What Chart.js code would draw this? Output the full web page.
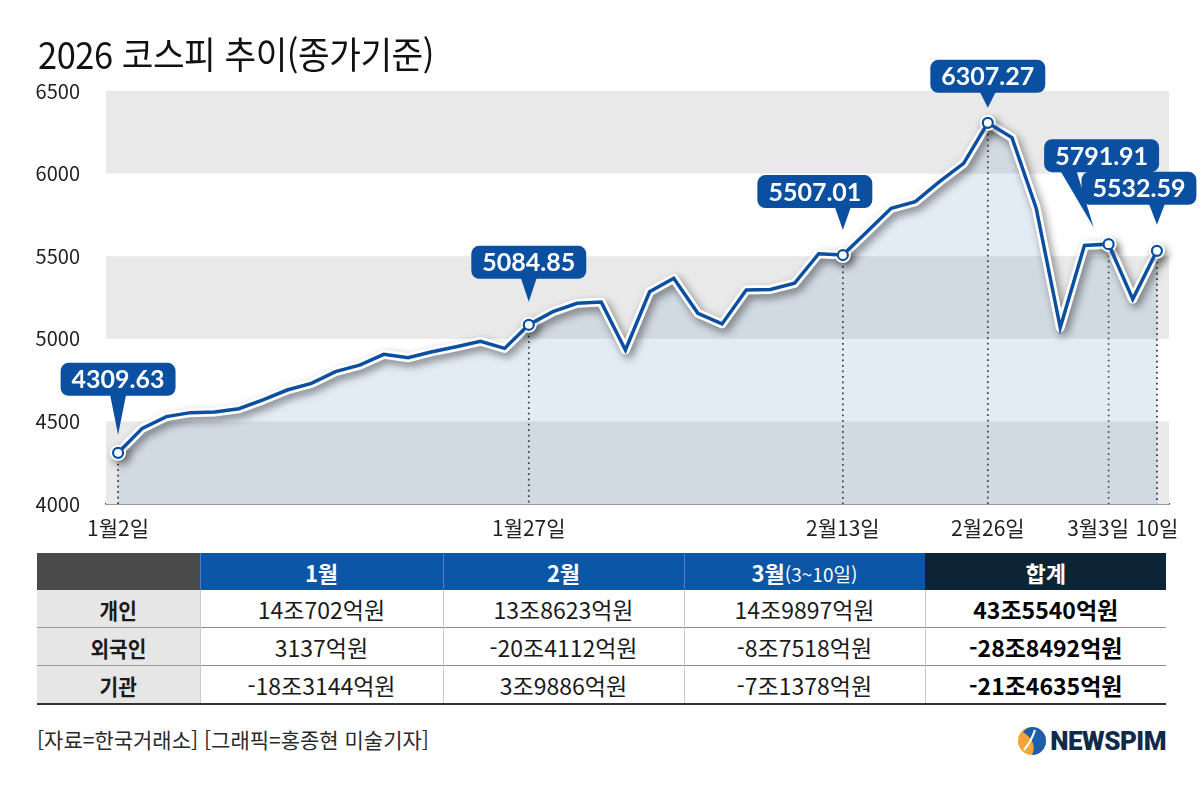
<!DOCTYPE html>
<html lang="ko">
<head>
<meta charset="utf-8">
<title>2026 코스피 추이</title>
<script src="https://cdn.jsdelivr.net/npm/chart.js@4.4.1/dist/chart.umd.min.js"></script>
<style>
  html, body { margin: 0; padding: 0; background: #fff; }
  body { width: 1204px; height: 786px; position: relative; overflow: hidden;
         font-family: "Noto Sans CJK KR", "Noto Sans", sans-serif; color: #111; }
  #title { position: absolute; left: 38px; top: 35px; font-size: 37px; line-height: 1;
           font-weight: 400; transform: scaleX(0.93); transform-origin: left center;
           white-space: nowrap; z-index: 2; letter-spacing: -0.5px; }
  #wrap { position: absolute; left: 0; top: 0; width: 1204px; height: 550px; }
  #flow { position: absolute; left: 37px; top: 553px; width: 1129px;
          border-collapse: collapse; table-layout: fixed; }
  #flow th, #flow td { padding: 0; text-align: center; vertical-align: middle; white-space: nowrap; }
  #flow th { height: 37px; color: #fff; font-size: 22px; font-weight: 700; background: #0b56a7;
             border-left: 1px solid #4c7fbf; }
  #flow th.corner { background: #4a4a4a; border-left: none; }
  #flow th.sum { background: #0d2436; border-left: 1px solid #0d2436; }
  #flow th small { font-size: 19px; font-weight: 400; }
  #flow td { height: 37px; font-size: 23px; color: #1a1a1a; border-top: 1px solid #8c8c8c;
             border-left: 1px solid #c9c9c9; }
  #flow tr:nth-child(2) td { border-top: none; }
  #flow td.who { background: #e6e6e6; font-weight: 700; font-size: 22px; border-left: none;
                 border-top-color: #9a9a9a; }
  #flow td.sum { font-weight: 700; font-size: 23px; color: #000; }
  #flow tr:last-child td { border-bottom: 2px solid #333; }
  #flow span { display: inline-block; }
  #flow td.who span { transform: scaleX(0.92); }
  #src { position: absolute; left: 37px; top: 729px; font-size: 21px; line-height: 1; color: #2a2a2a;
         white-space: nowrap; }
  #logo { position: absolute; right: 38px; top: 726px; display: flex; align-items: center; gap: 3px; }
  #logo b { font-family: Roboto, sans-serif; font-weight: 900; font-size: 26px; color: #11294a;
            display: inline-block; letter-spacing: -0.5px; line-height: 1; }
</style>
</head>
<body>
<div id="title">2026 코스피 추이(종가기준)</div>
<div id="wrap"><canvas id="kospi"></canvas></div>
<table id="flow"></table>
<div id="src">[자료=한국거래소] [그래픽=홍종현 미술기자]</div>
<div id="logo">
  <svg width="30" height="30" viewBox="0 0 30 30">
    <circle cx="15" cy="15" r="14" fill="#f3a536"/>
    <path d="M15 1 A14 14 0 0 1 15 29 Q 21 16 6 6 A14 14 0 0 1 15 1 Z" fill="#1d5dab"/>
    <path d="M7 24 Q 14 16 18 4" stroke="#fff" stroke-width="2.2" fill="none"/>
  </svg>
  <b>NEWSPIM</b>
</div>

<script>
// trading days, Jan 2 - Mar 10 2026
let dates = [
  "1/2", "1/5", "1/6", "1/7", "1/8", "1/9",
  "1/12", "1/13", "1/14", "1/15", "1/16",
  "1/19", "1/20", "1/21", "1/22", "1/23",
  "1/26", "1/27", "1/28", "1/29", "1/30",
  "2/2", "2/3", "2/4", "2/5", "2/6",
  "2/9", "2/10", "2/11", "2/12", "2/13",
  "2/19", "2/20",
  "2/23", "2/24", "2/25", "2/26", "2/27",
  "3/3", "3/4", "3/5", "3/6", "3/9", "3/10"
];

// KOSPI close
let closes = [
  4309.63, 4458, 4529, 4553, 4557, 4577,
  4630, 4690, 4730, 4801, 4841,
  4906, 4885, 4922, 4952, 4985,
  4942, 5084.85, 5164, 5215, 5222,
  4932, 5285, 5366, 5154, 5090,
  5295, 5299, 5336, 5515, 5507.01,
  5648, 5790,
  5830, 5951, 6062, 6307.27, 6218,
  5791.91, 5068, 5565, 5573, 5240, 5532.59
];

// marked points: axis label + callout
let markIndex = [0, 17, 30, 36, 41, 43];
let markTicks = ["1월2일", "1월27일", "2월13일", "2월26일", "3월3일\u3000", "10일"];
let markNotes = ["4309.63", "5084.85", "5507.01", "6307.27", "5791.91", "5532.59"];

// flows table
let flowCols = ["1월", "2월", "3월", "합계"];
let flowWho = ["개인", "외국인", "기관"];
let flowPersonal = ["14조702억원", "13조8623억원", "14조9897억원", "43조5540억원"];
let flowForeign = ["3137억원", "-20조4112억원", "-8조7518억원", "-28조8492억원"];
let flowInst = ["-18조3144억원", "3조9886억원", "-7조1378억원", "-21조4635억원"];

const BLUE = "#0b4fa1";

// callout placement (box centre offset, box lift above point, tip offsets)
let noteStyle = [
  { dx: 0,   lift: 57, tipDx: 0,   tipGap: 18, baseDx: 0 },
  { dx: 0,   lift: 46, tipDx: 0,   tipGap: 23, baseDx: 0 },
  { dx: -28, lift: 47, tipDx: 0,   tipGap: 25, baseDx: 28 },
  { dx: 0,   lift: 30, tipDx: 0,   tipGap: 15, baseDx: 0 },
  { dx: -7,  lift: 72, tipDx: -15, tipGap: 17, baseDx: -33 },
  { dx: -18, lift: 46, tipDx: 0,   tipGap: 26, baseDx: 18 }
];

function buildTable() {
  let t = document.getElementById("flow");
  let widths = [163, 243, 241, 241, 241];
  let cg = "<colgroup>" + widths.map(w => `<col style="width:${w}px">`).join("") + "</colgroup>";
  let head = `<tr><th class="corner"></th>` +
    `<th><span>${flowCols[0]}</span></th>` +
    `<th><span>${flowCols[1]}</span></th>` +
    `<th><span>${flowCols[2]}<small>(3~10일)</small></span></th>` +
    `<th class="sum"><span>${flowCols[3]}</span></th></tr>`;
  let rows = [flowPersonal, flowForeign, flowInst].map((r, i) =>
    `<tr><td class="who"><span>${flowWho[i]}</span></td>` +
    r.map((v, j) => `<td class="${j === 3 ? "sum" : ""}"><span>${v}</span></td>`).join("") +
    `</tr>`).join("");
  t.innerHTML = cg + head + rows;
}

const bands = {
  id: "bands",
  beforeDatasetsDraw(chart) {
    let { ctx, chartArea: a, scales: { y } } = chart;
    ctx.save();
    ctx.fillStyle = "#e9e9e9";
    let ticks = y.ticks;
    for (let i = 0; i + 1 < ticks.length; i += 2) {
      let bot = y.getPixelForValue(ticks[i].value);
      let top = y.getPixelForValue(ticks[i + 1].value);
      ctx.fillRect(a.left, top, a.right - a.left, bot - top);
    }
    // dotted drop lines
    let meta = chart.getDatasetMeta(2);
    ctx.strokeStyle = "#2b2b2b";
    ctx.lineWidth = 1.7;
    ctx.setLineDash([1.7, 3.8]);
    markIndex.forEach(i => {
      let p = meta.data[i];
      ctx.beginPath();
      ctx.moveTo(p.x, p.y);
      ctx.lineTo(p.x, a.bottom);
      ctx.stroke();
    });
    ctx.restore();
  }
};

const shadow = {
  id: "shadow",
  beforeDatasetDraw(chart, args) {
    if (args.index !== 1) return;
    let ctx = chart.ctx;
    ctx.save();
    ctx.shadowColor = "rgba(0,0,0,0.45)";
    ctx.shadowBlur = 8;
    ctx.shadowOffsetX = 3;
    ctx.shadowOffsetY = 4;
  },
  afterDatasetDraw(chart, args) {
    if (args.index === 1) chart.ctx.restore();
  }
};

const callouts = {
  id: "callouts",
  afterDatasetsDraw(chart) {
    let ctx = chart.ctx;
    let meta = chart.getDatasetMeta(2);
    ctx.save();
    ctx.font = "700 25px Lato, sans-serif";
    ctx.textAlign = "center";
    ctx.textBaseline = "middle";
    markIndex.forEach((idx, k) => {
      let p = meta.data[idx];
      let s = noteStyle[k];
      let txt = markNotes[k];
      let w = ctx.measureText(txt).width + 22;
      let h = 33;
      let cx = p.x + s.dx;
      let bottom = p.y - s.lift;
      ctx.fillStyle = BLUE;
      ctx.beginPath();
      ctx.roundRect(cx - w / 2, bottom - h, w, h, 8);
      ctx.fill();
      ctx.beginPath();
      ctx.moveTo(cx + s.baseDx - 8, bottom - 1);
      ctx.lineTo(cx + s.baseDx + 8, bottom - 1);
      ctx.lineTo(p.x + s.tipDx, p.y - s.tipGap);
      ctx.closePath();
      ctx.fill();
      ctx.fillStyle = "#fff";
      ctx.fillText(txt, cx, bottom - h / 2 + 1);
    });
    ctx.restore();
  }
};

function pointSizes(r) {
  return closes.map((v, i) => markIndex.includes(i) ? r : 0);
}

function drawChart() {
  Chart.defaults.font.family = "'Noto Sans CJK KR', 'Noto Sans', sans-serif";
  Chart.defaults.color = "#222";

  new Chart(document.getElementById("kospi"), {
    type: "line",
    data: {
      labels: dates,
      datasets: [
        { // area
          data: closes,
          borderWidth: 0,
          pointRadius: 0,
          fill: "start",
          backgroundColor: "rgba(105,149,199,0.19)",
          order: 3
        },
        { // white outline
          data: closes,
          borderColor: "#fff",
          borderWidth: 9,
          borderJoinStyle: "round",
          pointRadius: pointSizes(8),
          pointBackgroundColor: "#fff",
          pointBorderWidth: 0,
          fill: false,
          order: 2
        },
        { // main line
          data: closes,
          borderColor: BLUE,
          borderWidth: 3.5,
          borderJoinStyle: "miter",
          pointRadius: pointSizes(5),
          pointBackgroundColor: "#fff",
          pointBorderColor: BLUE,
          pointBorderWidth: 2.2,
          fill: false,
          order: 1
        }
      ]
    },
    options: {
      responsive: true,
      maintainAspectRatio: false,
      animation: false,
      layout: { padding: { top: 91, right: 35, left: 0, bottom: 0 } },
      plugins: { legend: { display: false }, tooltip: { enabled: false } },
      elements: { line: { tension: 0 } },
      scales: {
        x: {
          offset: true,
          grid: { display: false },
          border: { display: true, color: "#333", width: 1.6 },
          afterFit(scale) { scale.height = 46; },
          ticks: {
            autoSkip: false,
            maxRotation: 0,
            padding: 3,
            font: { size: 21 },
            color: "#222",
            callback: (v, i) => {
              let k = markIndex.indexOf(i);
              return k >= 0 ? markTicks[k] : "";
            }
          }
        },
        y: {
          min: 4000,
          max: 6500,
          grid: { display: false },
          border: { display: false },
          afterFit(scale) { scale.width = 106; },
          ticks: {
            stepSize: 500,
            padding: 18,
            font: { size: 20 },
            color: "#222",
            callback: v => String(v)
          }
        }
      }
    },
    plugins: [bands, shadow, callouts]
  });
}

window.onload = function () {
  buildTable();
  drawChart();
};
</script>
</body>
</html>
